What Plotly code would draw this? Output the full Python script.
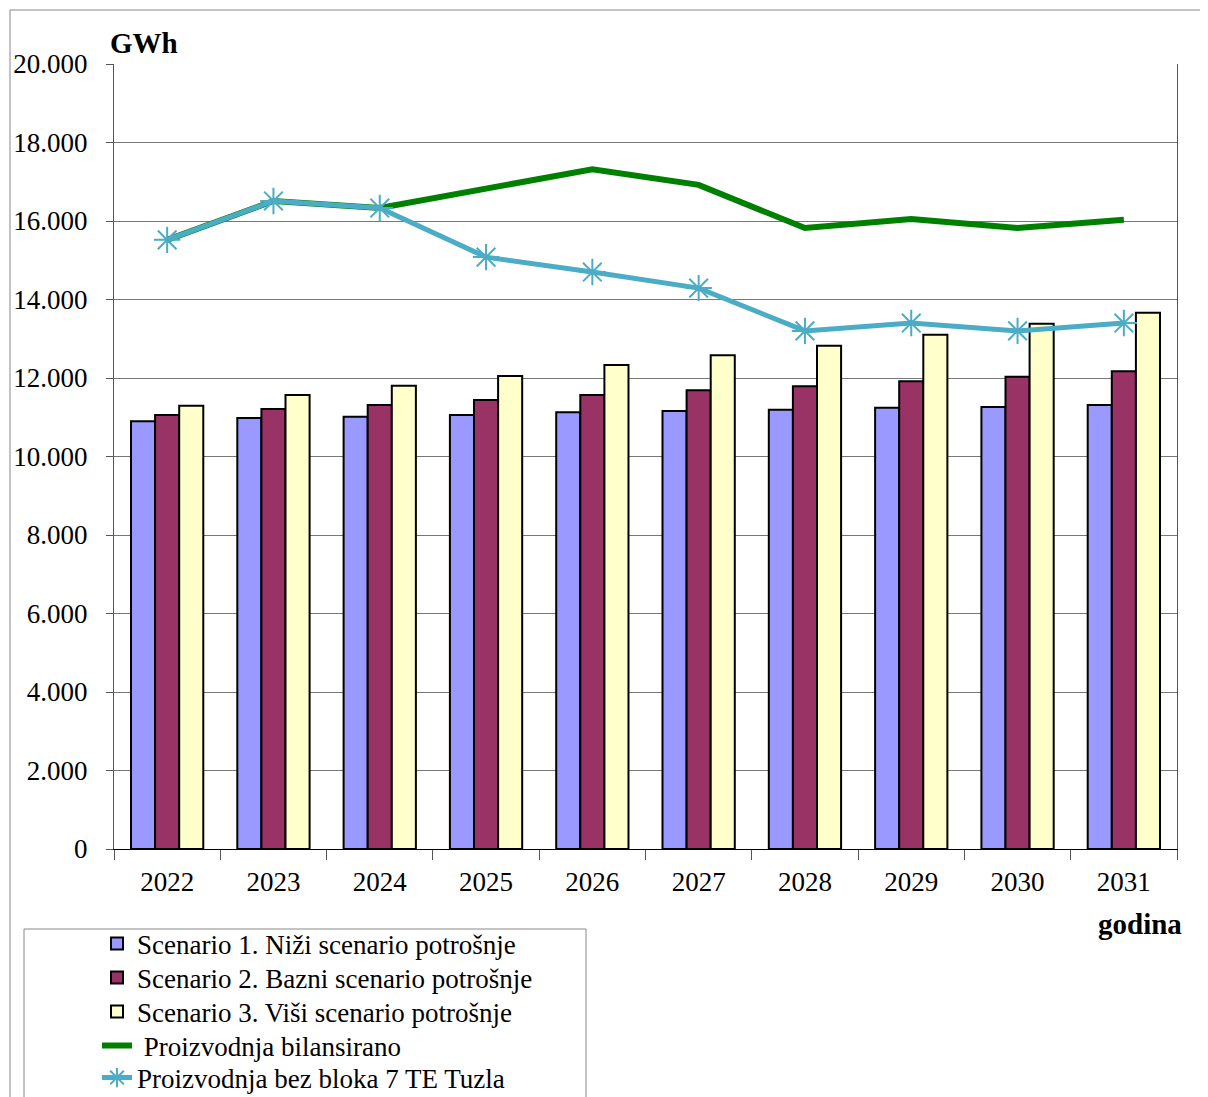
import plotly.graph_objects as go

years = ["2022", "2023", "2024", "2025", "2026", "2027", "2028", "2029", "2030", "2031"]
scenario1 = [10900, 10980, 11010, 11060, 11130, 11160, 11190, 11240, 11260, 11310]
scenario2 = [11060, 11210, 11310, 11440, 11570, 11690, 11790, 11920, 12030, 12170]
scenario3 = [11290, 11570, 11800, 12050, 12330, 12580, 12820, 13100, 13380, 13660]
proizvodnja_bil = [15520, 16510, 16330, 16840, 17320, 16920, 15820, 16050, 15820, 16030]
proizvodnja_bez = [15520, 16510, 16330, 15080, 14700, 14290, 13200, 13400, 13200, 13400]

names = [
    "Scenario 1. Niži scenario potrošnje",
    "Scenario 2. Bazni scenario potrošnje",
    "Scenario 3. Viši scenario potrošnje",
    " Proizvodnja bilansirano",
    "Proizvodnja bez bloka 7 TE Tuzla",
]

FONT = "Liberation Serif, Times New Roman, serif"
OFF = 8  # page body margin
W, H = 1208 - OFF, 1097 - OFF
# plot area in reference (window) pixels
PL, PR, PT, PB = 114, 1177, 64, 849
L, R, T, B = PL - OFF, W - (PR - OFF), PT - OFF, H - (PB - OFF)
pw, ph = PR - PL, PB - PT

def px(x):
    return (x - PL) / pw

def py(y):
    return (PB - y) / ph

legend_ids = ["legend", "legend2", "legend3", "legend4", "legend5"]
legend_rows = [944, 978, 1012, 1046, 1078]

fig = go.Figure()
bar_colors = ["#9999FF", "#993366", "#FFFFCC"]
for vals, nm, col, lg in zip([scenario1, scenario2, scenario3], names[:3], bar_colors, legend_ids[:3]):
    fig.add_trace(go.Bar(x=years, y=vals, name=nm, legend=lg,
                         marker=dict(color=col, line=dict(color="black", width=2))))

fig.add_trace(go.Scatter(x=years, y=proizvodnja_bil, name=names[3], mode="lines",
                         legend=legend_ids[3],
                         line=dict(color="#008000", width=6)))
fig.add_trace(go.Scatter(x=years, y=proizvodnja_bez, name=names[4], mode="lines+markers",
                         legend=legend_ids[4],
                         line=dict(color="#4BACC6", width=5),
                         marker=dict(symbol="asterisk-open", size=22, color="#4BACC6",
                                     line=dict(color="#4BACC6", width=2))))

legend_style = dict(xanchor="left", yanchor="middle", bgcolor="rgba(0,0,0,0)", borderwidth=0,
                    font=dict(family=FONT, size=27, color="black"), itemwidth=30)
legends = {lg: dict(x=px(97), y=py(row), **legend_style) for lg, row in zip(legend_ids, legend_rows)}

fig.update_layout(
    width=W, height=H,
    margin=dict(l=L, r=R, t=T, b=B, autoexpand=False),
    paper_bgcolor="white", plot_bgcolor="white",
    separators=",.",
    barmode="group", bargap=0.32, bargroupgap=0,
    font=dict(family=FONT, size=27, color="black"),
    showlegend=True,
    **legends,
)

fig.update_xaxes(type="category", range=[-0.5, len(years) - 0.5],
                 showline=True, linecolor="black", linewidth=1,
                 ticks="outside", tickson="boundaries", ticklen=10, tickcolor="#555",
                 ticklabelstandoff=9, showgrid=False,
                 tickfont=dict(family=FONT, size=27, color="black"))
fig.update_yaxes(range=[0, 20000], dtick=2000, tickformat=",d",
                 showline=True, linecolor="#555", linewidth=1, mirror=True,
                 ticks="outside", ticklen=7, tickcolor="#555", ticklabelstandoff=13,
                 showgrid=True, gridcolor="#777", gridwidth=1, zeroline=False,
                 tickfont=dict(family=FONT, size=27, color="black"))

# outer frame and legend box
fig.add_shape(type="rect", xref="paper", yref="paper",
              x0=px(10), x1=px(1205), y0=py(1110), y1=py(10),
              line=dict(color="#888", width=1), fillcolor="rgba(0,0,0,0)", layer="below")
fig.add_shape(type="rect", xref="paper", yref="paper",
              x0=px(24), x1=px(586), y0=py(1110), y1=py(929),
              line=dict(color="#888", width=1), fillcolor="rgba(0,0,0,0)")

fig.add_annotation(text="<b>GWh</b>", xref="paper", yref="paper", x=px(108), y=py(43),
                   xanchor="left", yanchor="middle", showarrow=False,
                   font=dict(family=FONT, size=29, color="black"))
fig.add_annotation(text="<b>godina</b>", xref="paper", yref="paper", x=px(1184), y=py(924),
                   xanchor="right", yanchor="middle", showarrow=False,
                   font=dict(family=FONT, size=29, color="black"))

fig.write_html("out.html")
